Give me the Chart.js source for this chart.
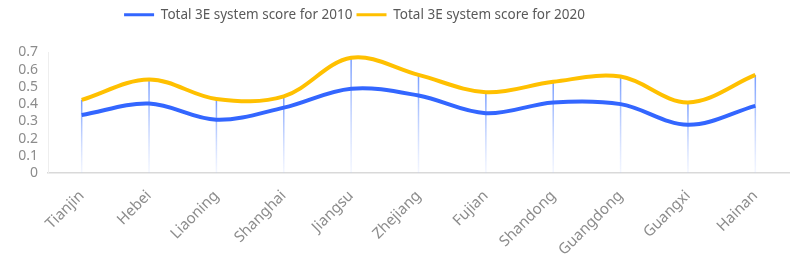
<!DOCTYPE html>
<html><head><meta charset="utf-8">
<script src="https://cdn.jsdelivr.net/npm/chart.js@4/dist/chart.umd.min.js"></script>
<style>html,body{margin:0;padding:0;background:#fff}#wrap{width:795px;height:263px}</style>
</head><body><div id="wrap"><canvas id="c" width="795" height="263"></canvas></div>
<script>
const categories = ["Tianjin","Hebei","Liaoning","Shanghai","Jiangsu","Zhejiang","Fujian","Shandong","Guangdong","Guangxi","Hainan"];
const score2010 = [0.337,0.404,0.31,0.38,0.49,0.45,0.347,0.41,0.40,0.28,0.39];
const score2020 = [0.425,0.543,0.43,0.445,0.669,0.57,0.469,0.53,0.56,0.41,0.57];
const yTicks = [0,0.1,0.2,0.3,0.4,0.5,0.6,0.7];

const dropLines = {
  id:'dropLines',
  beforeDatasetsDraw(chart){
    const ctx = chart.ctx, meta = chart.getDatasetMeta(1), bottom = chart.scales.y.getPixelForValue(0);
    ctx.save();
    meta.data.forEach(p=>{
      const g = ctx.createLinearGradient(0,p.y,0,bottom);
      g.addColorStop(0,'rgba(110,150,255,0.95)');
      g.addColorStop(1,'rgba(180,200,255,0.15)');
      ctx.strokeStyle = g; ctx.lineWidth = 1.5;
      ctx.beginPath(); ctx.moveTo(p.x,p.y); ctx.lineTo(p.x,bottom); ctx.stroke();
    });
    ctx.restore();
  }
};
const legendSpace = {
  id:'legendSpace',
  beforeInit(chart){
    const orig = chart.legend.fit;
    chart.legend.fit = function(){ orig.call(this); this.height += 21; };
  },
  afterLayout(chart){ chart.legend.right -= 80; }
};

new Chart(document.getElementById('c'),{
  type:'line',
  data:{labels:categories,datasets:[
    {label:'Total 3E system score for 2010',data:score2010,borderColor:'#3366ff',backgroundColor:'#3366ff',borderWidth:4,pointRadius:0,tension:0.35},
    {label:'Total 3E system score for 2020',data:score2020,borderColor:'#ffc000',backgroundColor:'#ffc000',borderWidth:4,pointRadius:0,tension:0.35}
  ]},
  options:{
    responsive:false,animation:false,
    layout:{padding:{top:4,right:6,left:0,bottom:0}},
    plugins:{
      legend:{position:'top',labels:{font:{family:'Noto Sans',size:13.5},color:'#595959',boxWidth:30,boxHeight:3,padding:4,
        generateLabels(chart){
          return Chart.defaults.plugins.legend.labels.generateLabels(chart).map(l=>Object.assign(l,{lineWidth:0}));
        }}},
      tooltip:{enabled:false}
    },
    scales:{
      x:{offset:true,grid:{display:false,drawTicks:false},border:{color:'#d9d9d9',width:1.5},
         ticks:{font:{family:'Noto Sans',size:15},color:'#8c8c8c',maxRotation:45,minRotation:45,padding:14,autoSkip:false},
         afterFit(s){s.height=90;}},
      y:{min:0,max:0.7,grid:{display:false,drawTicks:false},border:{color:'#eeeeee',width:1},
         afterBuildTicks(s){s.ticks=yTicks.map(v=>({value:v}));},
         ticks:{font:{family:'Noto Sans',size:14},color:'#8c8c8c',padding:10,autoSkip:false,callback:v=>String(Math.round(v*10)/10)},
         afterFit(s){s.width=48;}}
    }
  },
  plugins:[dropLines,legendSpace]
});
</script></body></html>
